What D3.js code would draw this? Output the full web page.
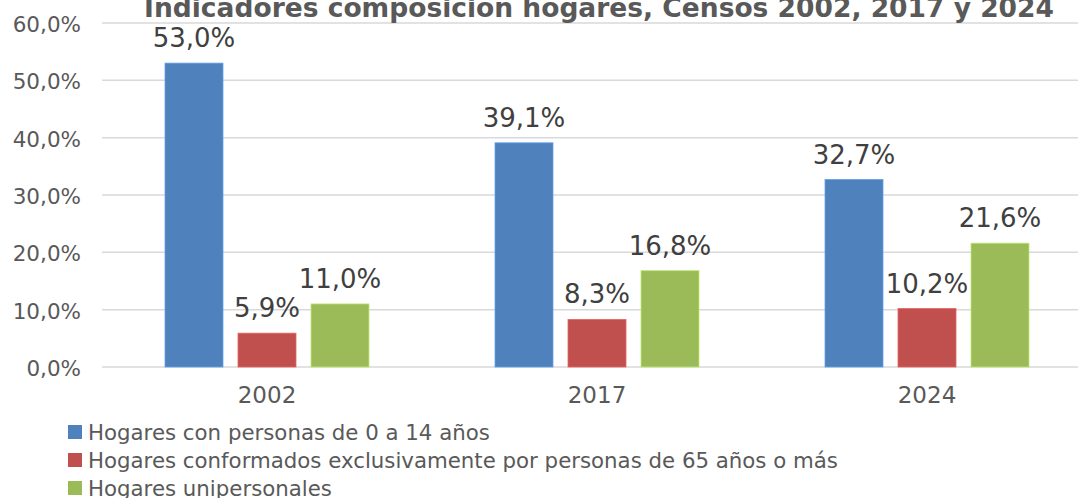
<!DOCTYPE html>
<html><head><meta charset="utf-8">
<script src="https://cdn.jsdelivr.net/npm/d3@7"></script>
<style>body{margin:0;background:#fff;overflow:hidden}svg{display:block}text{font-family:Verdana,"DejaVu Sans",sans-serif}</style>
</head><body>
<svg id="c" width="1078" height="498"></svg>
<script>
const title = "Indicadores composición hogares, Censos 2002, 2017 y 2024";
const categories = ["2002", "2017", "2024"];
const seriesNames = ["Hogares con personas de 0 a 14 años",
  "Hogares conformados exclusivamente por personas de 65 años o más",
  "Hogares unipersonales"];
const menores = [53.0, 39.1, 32.7];
const mayores = [5.9, 8.3, 10.2];
const unipersonales = [11.0, 16.8, 21.6];
const colors = ["#4f81bd", "#c0504d", "#9bbb59"];
const yTicks = [0, 10, 20, 30, 40, 50, 60];

const series = [menores, mayores, unipersonales];
const svg = d3.select("#c");
const fmt = v => v.toFixed(1).replace(".", ",") + "%";

const x = d3.scaleBand().domain(categories).range([102, 1092]).paddingInner(0).paddingOuter(0);
const xs = d3.scaleBand().domain(d3.range(series.length)).range([63, 330 - 63]).paddingInner(15/73).paddingOuter(0);
const y = d3.scaleLinear().domain([0, 60]).range([367, 23]);

// gridlines
svg.append("g").selectAll("line").data(yTicks).join("line")
  .attr("x1", 102).attr("x2", 1078)
  .attr("y1", d => y(d)).attr("y2", d => y(d))
  .attr("stroke", "#d9d9d9").attr("stroke-width", 1.5);

// y axis labels
const yAxis = d3.axisLeft(y).tickValues(yTicks).tickFormat(fmt).tickSize(0).tickPadding(0);
const ya = svg.append("g").attr("transform", "translate(81,0)").call(yAxis);
ya.select(".domain").remove();
ya.selectAll("text").attr("fill", "#595959").style("font-size", "21.5px")
  .style("font-family", 'Verdana,"DejaVu Sans",sans-serif').attr("dy", "0.4em");

// x axis labels
const xAxis = d3.axisBottom(x).tickSize(0).tickPadding(0);
const xa = svg.append("g").attr("transform", "translate(0,385)").call(xAxis);
xa.select(".domain").remove();
xa.selectAll("text").attr("fill", "#595959").style("font-size", "23px")
  .style("font-family", 'Verdana,"DejaVu Sans",sans-serif').attr("dy", "0.8em");

// bars
series.forEach((vals, si) => {
  const g = svg.append("g");
  g.selectAll("rect").data(vals).join("rect")
    .attr("x", (d, i) => x(categories[i]) + xs(si))
    .attr("width", xs.bandwidth())
    .attr("y", d => y(d))
    .attr("height", d => y(0) - y(d))
    .attr("fill", colors[si])
    .attr("stroke", d3.color(colors[si]).brighter(0.6)).attr("stroke-width", 0.8);
  g.selectAll("text").data(vals).join("text")
    .attr("x", (d, i) => x(categories[i]) + xs(si) + xs.bandwidth() / 2)
    .attr("y", d => y(d) - 16)
    .attr("text-anchor", "middle")
    .attr("fill", "#404040").style("font-size", "26px")
    .text(fmt);
});

// title
svg.append("text").attr("x", 599).attr("y", 17).attr("text-anchor", "middle")
  .attr("fill", "#595959").style("font-size", "26.5px").style("font-weight", "bold")
  .text(title);

// legend
const lg = svg.append("g");
seriesNames.forEach((n, i) => {
  const cy = 432 + i * 28;
  lg.append("rect").attr("x", 68).attr("y", cy - 7).attr("width", 14).attr("height", 14).attr("fill", colors[i]);
  lg.append("text").attr("x", 88).attr("y", cy).attr("dy", "0.36em")
    .attr("fill", "#595959").style("font-size", "21.3px").text(n);
});
</script>
</body></html>
